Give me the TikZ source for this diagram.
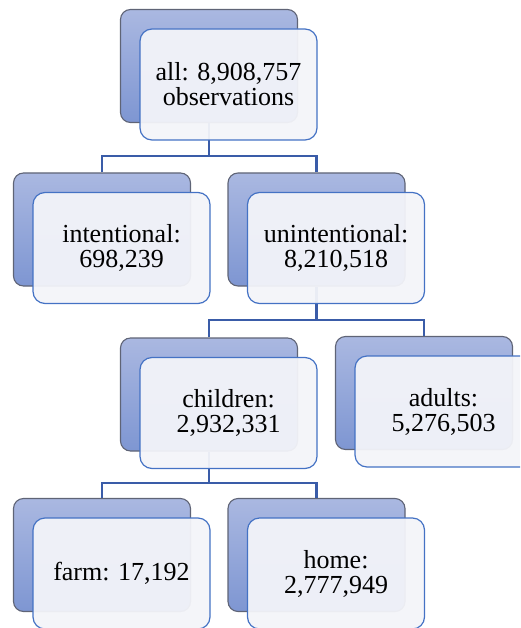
\documentclass[tikz,border=0pt]{standalone}
\usepackage{fontspec}
\setmainfont{Liberation Serif}
\usetikzlibrary{calc}
\definecolor{backtop}{RGB}{170,184,225}
\definecolor{backbot}{RGB}{126,150,210}
\definecolor{backline}{RGB}{95,100,118}
\definecolor{frontfill}{RGB}{243,244,249}
\definecolor{frontline}{RGB}{68,114,196}
\definecolor{conn}{RGB}{58,92,168}
\tikzset{
  backbox/.style={draw=backline, line width=1.1pt, rounded corners=10pt, top color=backtop, bottom color=backbot,
    minimum width=177pt, minimum height=113pt, inner sep=0pt},
  frontbox/.style={draw=frontline, line width=1.2pt, rounded corners=12pt, fill=frontfill, fill opacity=0.95,
    draw opacity=1, text opacity=1, minimum width=177pt, minimum height=111pt, inner sep=0pt, align=center,
    font=\fontsize{26}{25}\selectfont},
  connector/.style={draw=conn, line width=2.8pt}
}
\begin{document}
\begin{tikzpicture}[x=1pt,y=-1pt]
\useasboundingbox (0,0) rectangle (520,628);
\clip (0,0) rectangle (520,628);
% back box positions
\coordinate (p0) at (209,66);
\coordinate (p1) at (102,229.5);
\coordinate (p2) at (316.5,229.5);
\coordinate (p3) at (209,394.5);
\coordinate (p4) at (424,393);
\coordinate (p5) at (102,555);
\coordinate (p6) at (316.5,555);
% junction coordinates
\coordinate (j0) at (209,156);
\coordinate (j1) at (316.5,320);
\coordinate (j2) at (209,483);
% back boxes
\node[backbox] (b0) at (p0) {};
\node[backbox] (b1) at (p1) {};
\node[backbox] (b2) at (p2) {};
\node[backbox] (b3) at (p3) {};
\node[backbox] (b4) at (p4) {};
\node[backbox] (b5) at (p5) {};
\node[backbox] (b6) at (p6) {};
% connectors
\draw[connector] (b0.south) -- (j0);
\draw[connector] (b1.north) |- (j0) -| (b2.north);
\draw[connector] (b2.south) -- (j1);
\draw[connector] (b3.north) |- (j1) -| (b4.north);
\draw[connector] (b3.south) -- (j2);
\draw[connector] (b5.north) |- (j2) -| (b6.north);
% front boxes
\node[frontbox] (f0) at ($(p0)+(19.5,18.5)$) {all: 8,908,757\\observations};
\node[frontbox] (f1) at ($(p1)+(19.5,18.5)$) {intentional:\\698,239};
\node[frontbox] (f2) at ($(p2)+(19.5,18.5)$) {unintentional:\\8,210,518};
\node[frontbox] (f3) at ($(p3)+(19.5,18.5)$) {children:\\2,932,331};
\node[frontbox] (f4) at ($(p4)+(19.5,18.5)$) {adults:\\5,276,503};
\node[frontbox] (f5) at ($(p5)+(19.5,18.5)$) {farm: 17,192};
\node[frontbox] (f6) at ($(p6)+(19.5,18.5)$) {home:\\2,777,949};
\end{tikzpicture}
\end{document}
